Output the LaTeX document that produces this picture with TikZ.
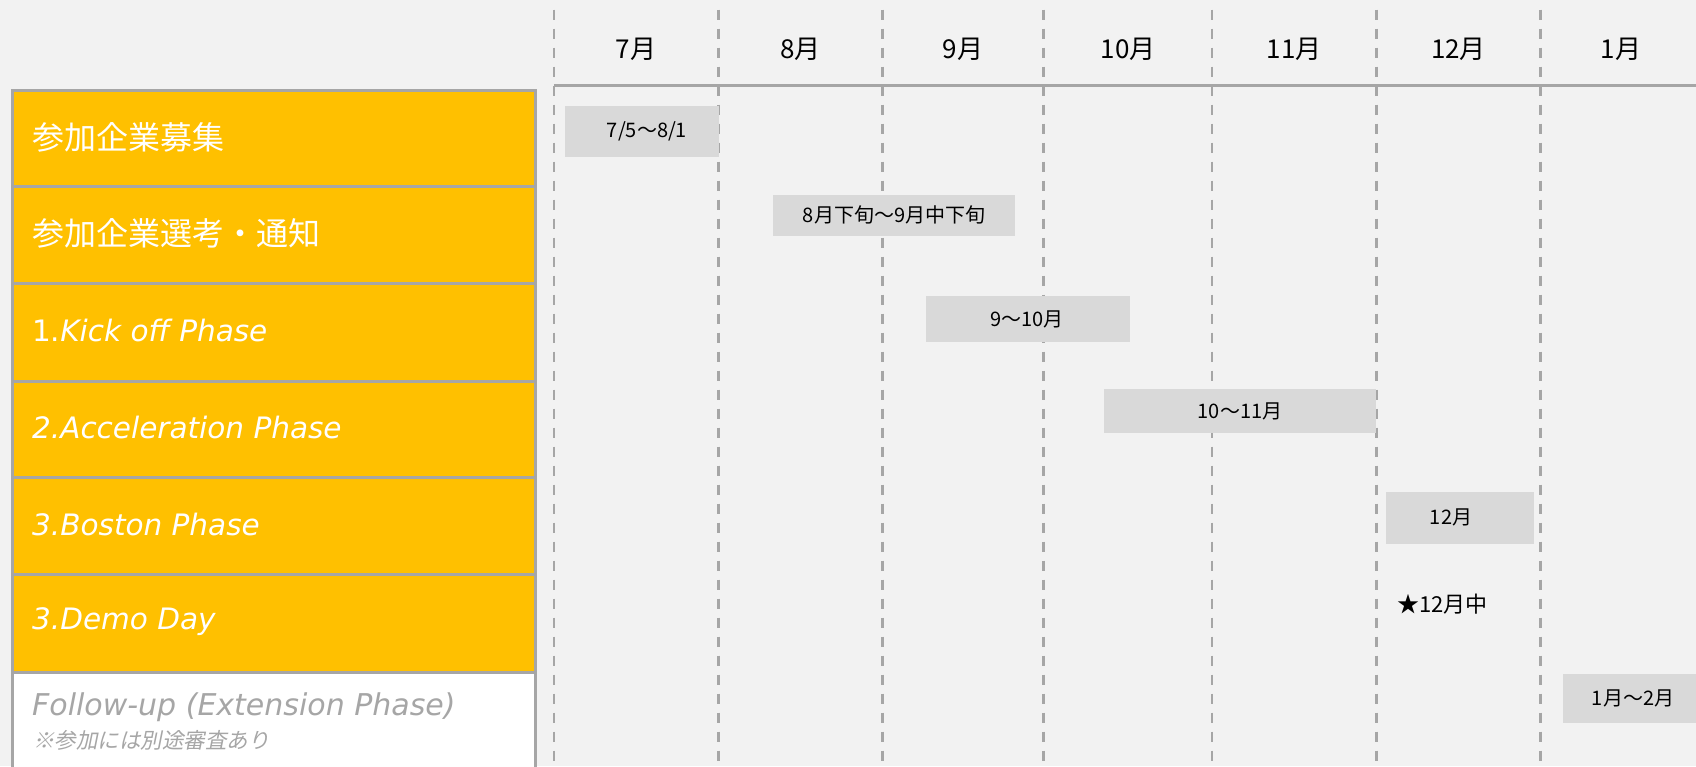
\documentclass[tikz,border=0pt]{standalone}
\usepackage{fontspec}
\setmainfont{Noto Sans CJK JP}
\newfontfamily\lat{DejaVu Sans}
\newfontfamily\jpsl[FakeSlant=0.2]{Noto Sans CJK JP}
\definecolor{bg}{HTML}{F2F2F2}
\definecolor{gold}{HTML}{FFC000}
\definecolor{barc}{HTML}{D9D9D9}
\definecolor{lgray}{HTML}{A6A6A6}
\begin{document}
\begin{tikzpicture}[x=1pt,y=-1pt,
  dline/.style={draw=lgray,line width=2.5pt,dash pattern=on 10pt off 9pt},
  rowbox/.style={draw=lgray,line width=3pt,fill=gold,inner sep=0pt,anchor=north west,minimum width=522.8pt},
  title/.style={anchor=west,inner sep=0pt,text=white,font=\fontsize{32}{36}\selectfont},
  ltitle/.style={anchor=west,inner sep=0pt,text=white,font=\lat\fontsize{29.5}{36}\selectfont},
  month/.style={inner sep=0pt,font=\fontsize{26}{30}\selectfont},
  barbox/.style={fill=barc,inner sep=0pt,anchor=north west},
  barlbl/.style={inner sep=0pt,font=\fontsize{20}{24}\selectfont}]
\fill[bg] (0,0) rectangle (1696,766);
\useasboundingbox (0,0) rectangle (1696,766);
% month grid
\foreach \x in {554,718.5,882.6,1043.7,1212,1376.6,1540.5}
  \draw[dline] (\x,9.5) -- (\x,770);
\draw[draw=lgray,line width=3pt] (554,85) -- (1700,85);
% month labels
\node[month] (m7) at (636,49) {7月};
\node[month] (m8) at (800.5,49) {8月};
\node[month] (m9) at (963,49) {9月};
\node[month] (m10) at (1128,49) {10月};
\node[month] (m11) at (1294,49) {11月};
\node[month] (m12) at (1458.5,49) {12月};
\node[month] (m1) at (1621,49) {1月};
% bars
\node[barbox,minimum width=154pt,minimum height=51pt] (b1) at (564.5,106) {};
\node[barlbl] (l1) at (647,131.5) {7/5～8/1};
\node[barbox,minimum width=242pt,minimum height=40.5pt] (b2) at (773,195) {};
\node[barlbl] (l2) at (894,215) {8月下旬～9月中下旬};
\node[barbox,minimum width=203.5pt,minimum height=46pt] (b3) at (926,296) {};
\node[barlbl] (l3) at (1027,319) {9～10月};
\node[barbox,minimum width=272pt,minimum height=44pt] (b4) at (1104,389) {};
\node[barlbl] (l4) at (1240,411) {10～11月};
\node[barbox,minimum width=148pt,minimum height=51.5pt] (b5) at (1386,492) {};
\node[barlbl] (l5) at (1451,517) {12月};
\node[barlbl,anchor=west,font=\fontsize{22}{26}\selectfont] (star) at (1397,604) {★12月中};
\node[barbox,minimum width=140pt,minimum height=48.5pt] (b6) at (1563,674) {};
\node[barlbl] (l6) at (1633,698) {1月～2月};
% left panel
\node[rowbox,minimum height=96.3pt] (r1) at (10.7,88.7) {};
\node[rowbox,minimum height=97.3pt] (r2) at (10.7,185) {};
\node[rowbox,minimum height=97.3pt] (r3) at (10.7,282.3) {};
\node[rowbox,minimum height=96.4pt] (r4) at (10.7,379.6) {};
\node[rowbox,minimum height=97.2pt] (r5) at (10.7,476) {};
\node[rowbox,minimum height=97.4pt] (r6) at (10.7,573.2) {};
\node[rowbox,fill=white,minimum height=110pt] (r7) at (10.7,670.6) {};
\node[title] (t1) at (32,137) {参加企業募集};
\node[title] (t2) at (32,233) {参加企業選考・通知};
\node[ltitle] (t3) at (32,330) {1.\itshape Kick off Phase};
\node[ltitle] (t4) at (32,427) {\itshape 2.Acceleration Phase};
\node[ltitle] (t5) at (32,524.5) {\itshape 3.Boston Phase};
\node[ltitle] (t6) at (32,622) {\itshape 3.Demo Day};
\node[ltitle,text=lgray,font=\lat\fontsize{30}{34}\selectfont] (t7) at (32,707) {\itshape Follow-up (Extension Phase)};
\node[anchor=west,inner sep=0pt,text=lgray,font=\jpsl\fontsize{21.5}{24}\selectfont] (t8) at (33,740) {※参加には別途審査あり};
\end{tikzpicture}
\end{document}
